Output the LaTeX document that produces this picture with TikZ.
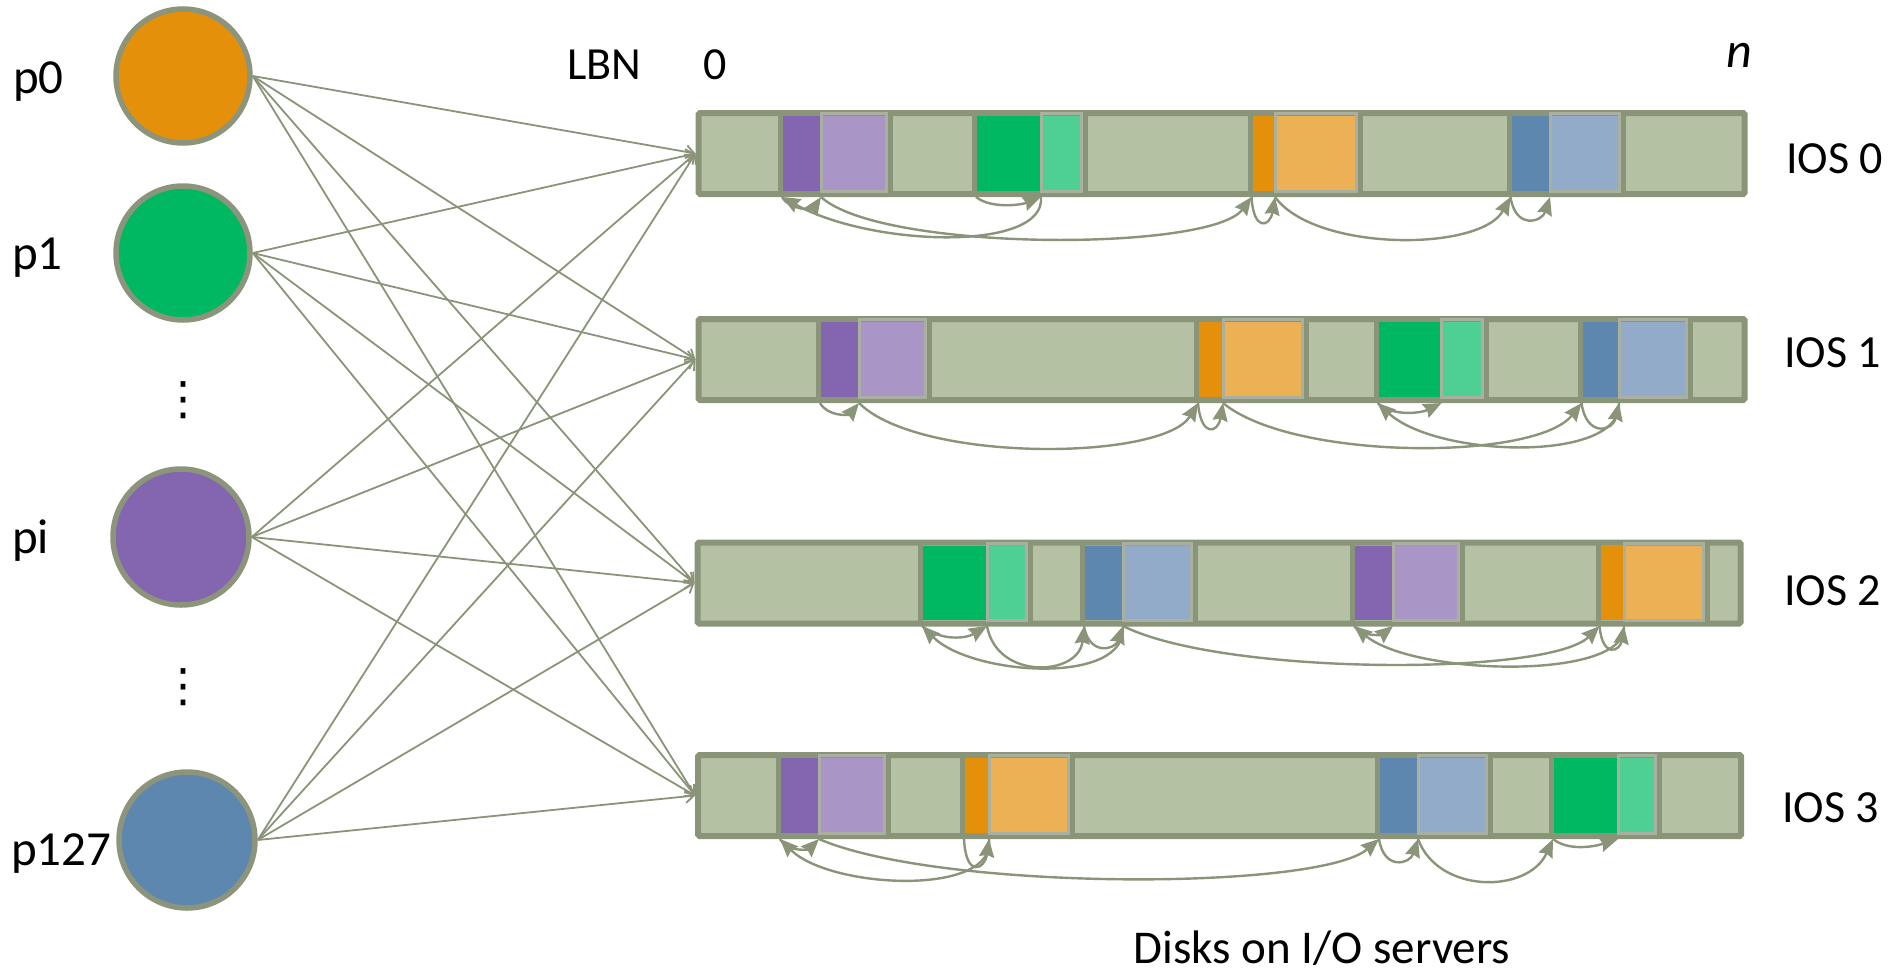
\documentclass[tikz,border=0pt]{standalone}
\usepackage{fontspec}
\setmainfont{Carlito}
\newfontfamily\symfont{DejaVu Sans}
\usetikzlibrary{arrows.meta}

\definecolor{edge}{HTML}{8A9479}
\definecolor{cedge}{HTML}{8C957B}
\definecolor{barfill}{HTML}{B4C1A2}
\definecolor{lightedge}{HTML}{AAB09F}
\definecolor{orD}{HTML}{E4900B}
\definecolor{orL}{HTML}{ECB154}
\definecolor{grD}{HTML}{00B862}
\definecolor{grL}{HTML}{4ED094}
\definecolor{puD}{HTML}{8366AF}
\definecolor{puL}{HTML}{A995C6}
\definecolor{blD}{HTML}{5E87B0}
\definecolor{blL}{HTML}{91ABC9}

% one coloured extent on a disk bar:
% #1 id, #2 top, #3 bottom, #4 left separator, #5 split, #6 right separator, #7 dark, #8 light
\newcommand\extent[8]{%
  \fill[#7] (#4,#2+3) rectangle (#5,#3-3);
  \fill[#8] (#5,#2+3) rectangle (#6,#3-3);
  \draw[lightedge, line width=3pt] (#5,#2) rectangle (#6-4,#3-2.5);
  \draw[edge, line width=5pt] (#4,#2-3) -- (#4,#3+3);
  \draw[edge, line width=5pt] (#6,#2-3) -- (#6,#3+3);
  \coordinate (#1L) at (#4+1.5,#3+3);
  \coordinate (#1B) at (#5,#3+3);
}

\begin{document}
\begin{tikzpicture}[x=1pt, y=-1pt,
  proc/.style={circle, draw=cedge, line width=5.5pt, minimum size=134pt, inner sep=0pt},
  bar/.style={rectangle, draw=edge, fill=barfill, line width=6pt, rounded corners=1.5pt,
              minimum width=1046pt, minimum height=81pt, inner sep=0pt},
  link/.style={draw=edge, line width=1.8pt, -{Straight Barb[length=8pt,width=13pt]}},
  flow/.style={draw=edge, line width=2.4pt, -{Stealth[length=18pt,width=15pt,inset=2pt]}},
  lbl/.style={font=\fontsize{46pt}{50pt}\selectfont, inner sep=0pt},
  plbl/.style={font=\fontsize{49pt}{52pt}\selectfont, inner sep=0pt, anchor=base west},
  dots/.style={font=\symfont\fontsize{46pt}{46pt}\selectfont, inner sep=0pt}]

\useasboundingbox (0,0) rectangle (1889,974);

% disk bars of the four I/O servers
\node[bar] (ios0) at (1221.5,153.5) {};
\node[bar] (ios1) at (1221.5,359.5) {};
\node[bar, minimum width=1043pt] (ios2) at (1219,583) {};
\node[bar, minimum width=1043pt] (ios3) at (1219.5,795.5) {};

% extents written by each process
\extent{b0pu}{113}{194}{780.5}{821}{890.5}{puD}{puL}
\extent{b0gr}{113}{194}{974.5}{1041}{1085}{grD}{grL}
\extent{b0or}{113}{194}{1250}{1275}{1360.5}{orD}{orL}
\extent{b0bl}{113}{194}{1509}{1550}{1623}{blD}{blL}

\extent{b1pu}{319}{400}{818.5}{859}{929}{puD}{puL}
\extent{b1or}{319}{400}{1196.5}{1223}{1306}{orD}{orL}
\extent{b1gr}{319}{400}{1376}{1441.5}{1486}{grD}{grL}
\extent{b1bl}{319}{400}{1580}{1619}{1690}{blD}{blL}

\extent{b2gr}{543}{623}{920.5}{987}{1030.5}{grD}{grL}
\extent{b2bl}{543}{623}{1082.5}{1123}{1195}{blD}{blL}
\extent{b2pu}{543}{623}{1352.5}{1393}{1462.5}{puD}{puL}
\extent{b2or}{543}{623}{1598}{1624}{1707.5}{orD}{orL}

\extent{b3pu}{755}{836}{778.5}{819}{888.5}{puD}{puL}
\extent{b3or}{755}{836}{962.5}{989}{1072}{orD}{orL}
\extent{b3bl}{755}{836}{1377.5}{1418}{1490}{blD}{blL}
\extent{b3gr}{755}{836}{1551.5}{1618}{1659.5}{grD}{grL}

% processes
\node[proc, fill=orD] (p0) at (183,76) {};
\node[proc, fill=grD] (p1) at (183,253) {};
\node[proc, fill=puD, minimum size=136pt] (pi) at (181,537) {};
\node[proc, fill=blD, minimum size=136pt] (p127) at (187,840) {};

% every process sends to every server
\foreach \p in {p0,p1,pi,p127}{
  \foreach \s in {ios0,ios1,ios2,ios3}{
    \draw[link] (\p.east) -- (\s.west);
  }
}

% access order on IOS 0
\draw[flow] (b0puL) .. controls +(8,14) and +(-8,12) .. (b0puB);
\draw[flow] (b0grB) .. controls +(5,55) and +(90,50) .. (b0puL);
\draw[flow] (b0puB) .. controls +(60,55) and +(-40,55) .. (b0orL);
\draw[flow] (b0grL) .. controls +(15,12) and +(-20,8) .. (b0grB);
\draw[flow] (b0orL) .. controls +(2,35) and +(-5,30) .. (b0orB);
\draw[flow] (b0orB) .. controls +(40,55) and +(-30,55) .. (b0blL);
\draw[flow] (b0blL) .. controls +(5,33) and +(-8,25) .. (b0blB);

% access order on IOS 1
\draw[flow] (b1puL) .. controls +(8,14) and +(-10,12) .. (b1puB);
\draw[flow] (b1puB) .. controls +(60,60) and +(-35,58) .. (b1orL);
\draw[flow] (b1orL) .. controls +(3,35) and +(-5,30) .. (b1orB);
\draw[flow] (b1orB) .. controls +(70,58) and +(-45,58) .. (b1blL);
\draw[flow] (b1grL) .. controls +(15,14) and +(-20,10) .. (b1grB);
\draw[flow] (b1blL) .. controls +(5,35) and +(-6,28) .. (b1blB);
\draw[flow] (b1blB) .. controls +(4,60) and +(60,55) .. (b1grL);

% access order on IOS 2
\draw[flow] (b2grL) .. controls +(20,16) and +(-20,12) .. (b2grB);
\draw[flow] (b2blB) .. controls +(5,60) and +(50,50) .. (b2grL);
\draw[flow] (b2grB) .. controls +(10,55) and +(-5,50) .. (b2blL);
\draw[flow] (b2blL) .. controls +(5,30) and +(-8,24) .. (b2blB);
\draw[flow] (b2blB) .. controls +(100,50) and +(-50,50) .. (b2orL);
\draw[flow] (b2orL) .. controls +(3,33) and +(-4,25) .. (b2orB);
\draw[flow] (b2orB) .. controls +(5,55) and +(60,50) .. (b2puL);
\draw[flow] (b2puL) .. controls +(8,12) and +(-10,8) .. (b2puB);

% access order on IOS 3
\draw[flow] (b3puL) .. controls +(8,14) and +(-10,10) .. (b3puB);
\draw[flow] (b3orB) .. controls +(8,58) and +(50,50) .. (b3puL);
\draw[flow] (b3puB) .. controls +(120,52) and +(-60,52) .. (b3blL);
\draw[flow] (b3orL) .. controls +(2,40) and +(-4,30) .. (b3orB);
\draw[flow] (b3blL) .. controls +(5,32) and +(-8,25) .. (b3blB);
\draw[flow] (b3blB) .. controls +(20,55) and +(-25,55) .. (b3grL);
\draw[flow] (b3grL) .. controls +(15,12) and +(-25,8) .. (b3grB);

% labels
\node[plbl] (lp0) at (13,93) {p0};
\node[plbl] (lp1) at (12,269) {p1};
\node[plbl] (lpi) at (12,553) {pi};
\node[plbl] (lp127) at (11,865) {p127};
\node[dots] (d1) at (183,400) {⋮};
\node[dots] (d2) at (183,687) {⋮};

\node[lbl, anchor=base west] (lbn) at (567,80) {LBN};
\node[lbl, anchor=base] (zero) at (715.5,80) {0};
\node[lbl, anchor=base, font=\fontsize{50pt}{52pt}\selectfont\itshape] (nn) at (1739,67) {n};

\node[lbl, anchor=base west] (t0) at (1786,173) {IOS 0};
\node[lbl, anchor=base west] (t1) at (1784,367) {IOS 1};
\node[lbl, anchor=base west] (t2) at (1784,605) {IOS 2};
\node[lbl, anchor=base west] (t3) at (1782,822) {IOS 3};

\node[lbl, anchor=base, font=\fontsize{47pt}{50pt}\selectfont] (disks) at (1322,963) {Disks on I/O servers};
\end{tikzpicture}
\end{document}
